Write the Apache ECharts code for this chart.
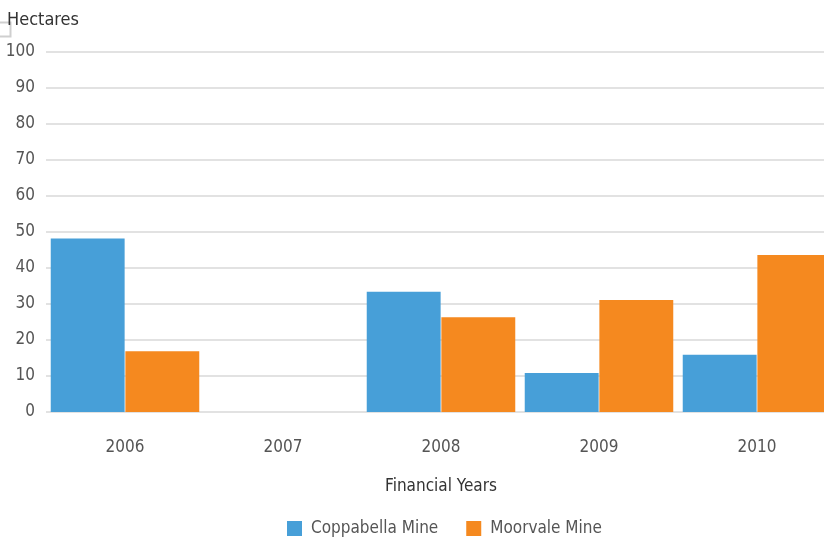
<!DOCTYPE html>
<html><head><meta charset="utf-8">
<script src="https://cdn.jsdelivr.net/npm/echarts@6/dist/echarts.min.js"></script>
<style>html,body{margin:0;padding:0;background:#fff}#c{width:824px;height:537px}</style>
</head><body><div id="c"></div>
<script>
const categories = ['2006', '2007', '2008', '2009', '2010'];
const coppabella = [48.2, 0, 33.4, 10.8, 15.9];
const moorvale = [16.9, 0, 26.3, 31.1, 43.6];
const yTicks = [0, 10, 20, 30, 40, 50, 60, 70, 80, 90, 100];
const seriesNames = ['Coppabella Mine', 'Moorvale Mine'];
const FONT = "'Liberation Sans Narrow','DejaVu Sans Condensed','Roboto',sans-serif";

const chart = echarts.init(document.getElementById('c'));
chart.setOption({
  animation: false,
  textStyle: { fontFamily: FONT },
  color: ['#479FD8', '#F5891F'],
  grid: { left: 46, width: 790, top: 52, bottom: 125, containLabel: false, outerBoundsMode: 'none' },
  graphic: [
    { type: 'rect', left: -4, top: 20, shape: { width: 12, height: 14 }, style: { fill: 'none', stroke: '#cfcfcf', lineWidth: 2 } },
    { type: 'text', left: 7, top: 11, style: { text: 'Hectares', fill: '#333', font: '18px ' + FONT } }
  ],
  legend: {
    top: 515, left: 282,
    itemWidth: 15, itemHeight: 15, itemGap: 28,
    icon: 'rect',
    textStyle: { fontSize: 17, color: '#555', fontFamily: FONT, padding: [0, 0, 0, 4] },
    data: seriesNames
  },
  xAxis: {
    type: 'category', data: categories,
    name: 'Financial Years', nameLocation: 'middle', nameGap: 66,
    nameTextStyle: { fontSize: 17, color: '#333', fontFamily: FONT },
    axisLine: { show: false }, axisTick: { show: false },
    axisLabel: { margin: 27, fontSize: 17, color: '#555', fontFamily: FONT }
  },
  yAxis: {
    type: 'value', min: yTicks[0], max: yTicks[yTicks.length - 1], interval: 10,
    axisLine: { show: false }, axisTick: { show: false },
    axisLabel: { margin: 11, fontSize: 17, color: '#555', fontFamily: FONT,
      formatter: v => yTicks.includes(v) ? String(v) : '' },
    splitLine: { lineStyle: { color: '#d9d9d9', width: 1.5 } }
  },
  series: [
    { name: seriesNames[0], type: 'bar', data: coppabella, barGap: '1%', barCategoryGap: '6%' },
    { name: seriesNames[1], type: 'bar', data: moorvale, barGap: '1%', barCategoryGap: '6%' }
  ]
});
</script></body></html>
